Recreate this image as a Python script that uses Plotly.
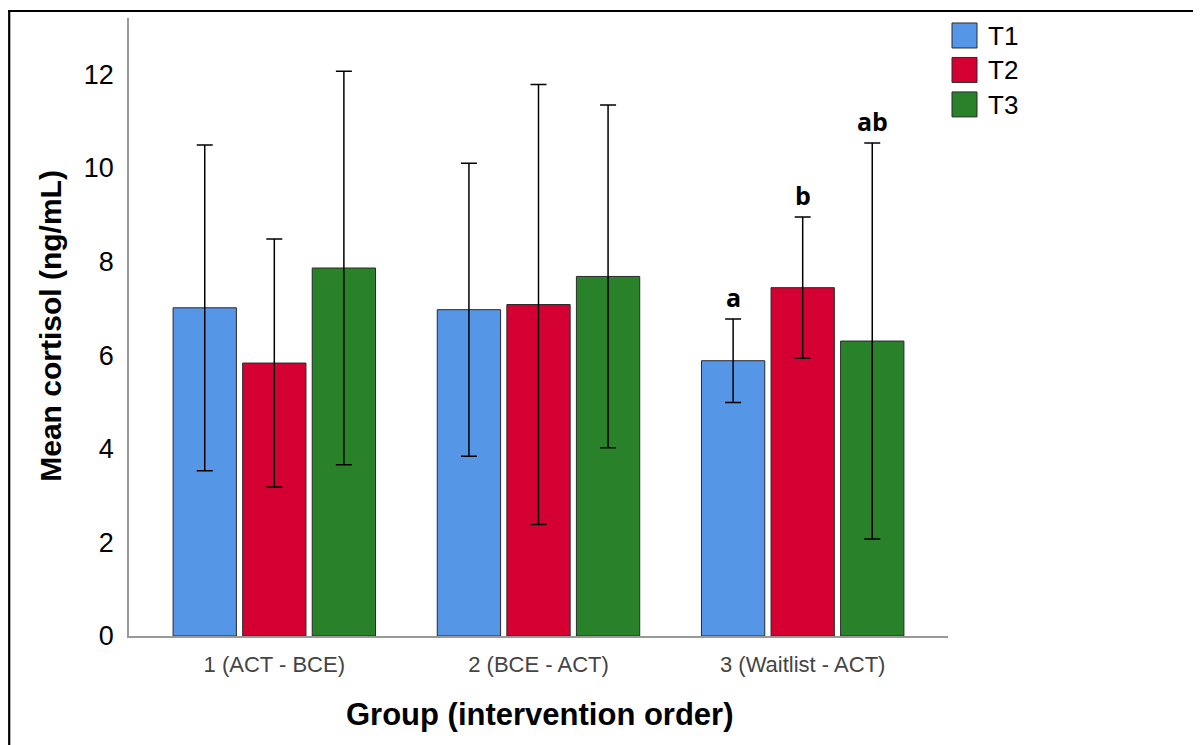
import plotly.graph_objects as go

groups = ["1 (ACT - BCE)", "2 (BCE - ACT)", "3 (Waitlist - ACT)"]
series = ["T1", "T2", "T3"]
means = {
    "T1": [7.01, 6.97, 5.88],
    "T2": [5.83, 7.08, 7.44],
    "T3": [7.86, 7.68, 6.30],
}
errors = {
    "T1": [3.48, 3.13, 0.89],
    "T2": [2.65, 4.70, 1.51],
    "T3": [4.20, 3.66, 4.23],
}
colors = {"T1": "#5596E6", "T2": "#D50032", "T3": "#298129"}
sig_labels = {"T1": "a", "T2": "b", "T3": "ab"}
sig_group = "3 (Waitlist - ACT)"

# page has an 8px body margin; size figure so page coords match the reference
OFF = 8
W, H = 1201 - OFF, 745 - OFF
PL, PR, PT, PB = 129, 948, 18, 636.5   # plot area in page pixel coords
L, T = PL - OFF, PT - OFF
R = W - (PR - OFF)
B = H - (PB - OFF)
pw, ph = PR - PL, PB - PT
bargap = 0.21
bargroupgap = 0.09

fig = go.Figure()
for s in series:
    fig.add_trace(go.Bar(
        x=groups, y=means[s], name=s,
        marker=dict(color=colors[s], line=dict(color="#2a2a2a", width=1)),
        error_y=dict(type="data", array=errors[s], visible=True,
                     color="black", thickness=1.5, width=8),
        showlegend=False,
    ))

annotations = []
gi = groups.index(sig_group)
slot = (1 - bargap) / len(series)
for k, s in enumerate(series):
    xpos = gi + (k - (len(series) - 1) / 2) * slot
    top = means[s][gi] + errors[s][gi]
    annotations.append(dict(
        x=xpos, y=top, xref="x", yref="y", text=f"<b>{sig_labels[s]}</b>",
        showarrow=False, yanchor="bottom", yshift=3,
        font=dict(family="Open Sans", size=25, color="black")))

def px_x(px):
    return (px - PL) / pw

def px_y(py):
    return (PB - py) / ph

# axis titles
annotations.append(dict(
    x=px_x(51), y=px_y(326), xref="paper", yref="paper", text="<b>Mean cortisol (ng/mL)</b>",
    textangle=-90, showarrow=False, xanchor="center", yanchor="middle",
    font=dict(family="Liberation Sans", size=30, color="black")))
annotations.append(dict(
    x=px_x(540), y=px_y(715), xref="paper", yref="paper", text="<b>Group (intervention order)</b>",
    showarrow=False, xanchor="center", yanchor="middle",
    font=dict(family="Liberation Sans", size=31, color="black")))

# custom legend
shapes = []
leg_rows = [23, 57.5, 92]
for s, ytop in zip(series, leg_rows):
    shapes.append(dict(type="rect", xref="paper", yref="paper",
                       x0=px_x(952), x1=px_x(977), y0=px_y(ytop + 25), y1=px_y(ytop),
                       fillcolor=colors[s], line=dict(color="#2a2a2a", width=1)))
    annotations.append(dict(x=px_x(986), y=px_y(ytop + 13), xref="paper", yref="paper",
                            text=s, showarrow=False, xanchor="left", yanchor="middle",
                            font=dict(family="Liberation Sans", size=26, color="black")))

# outer frame (left and top)
shapes.append(dict(type="line", xref="paper", yref="paper",
                   x0=px_x(9.2), x1=px_x(9.2), y0=px_y(10), y1=px_y(760),
                   line=dict(color="black", width=2.2)))
shapes.append(dict(type="line", xref="paper", yref="paper",
                   x0=px_x(8), x1=px_x(1220), y0=px_y(11), y1=px_y(11),
                   line=dict(color="black", width=2.2)))

fig.update_layout(
    width=W, height=H,
    margin=dict(l=L, r=R, t=T, b=B),
    paper_bgcolor="white", plot_bgcolor="white",
    barmode="group", bargap=bargap, bargroupgap=bargroupgap,
    annotations=annotations, shapes=shapes,
    font=dict(family="Liberation Sans"),
)
fig.update_xaxes(
    type="category", range=[-0.55, 2.55],
    showline=True, linecolor="#999999", linewidth=1.5,
    showgrid=False, ticks="", ticklabelstandoff=8,
    tickfont=dict(family="Liberation Sans", size=22, color="#444444"),
)
fig.update_yaxes(
    range=[0, 13.2], tickvals=[0, 2, 4, 6, 8, 10, 12],
    showline=True, linecolor="#999999", linewidth=1.5,
    showgrid=False, zeroline=False, ticks="", ticklabelstandoff=8,
    tickfont=dict(family="Liberation Sans", size=27, color="black"),
)

fig.write_html("out.html")
